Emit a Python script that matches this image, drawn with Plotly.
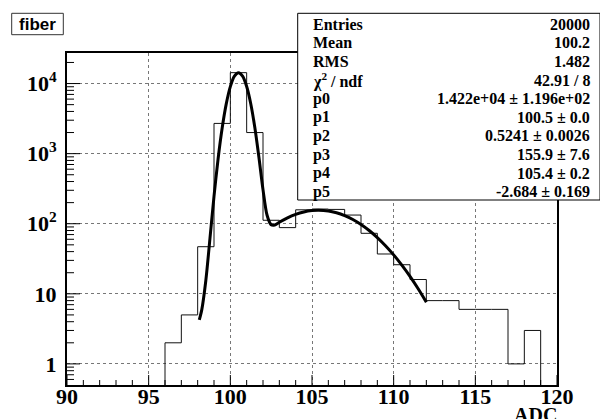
import math
import plotly.graph_objects as go

# ---------------- data ----------------
bin_edges = list(range(90, 121))  # 30 bins of width 1
counts = [0, 0, 0, 0, 0, 0, 2, 5, 47, 2700,
          14300, 2000, 112, 88, 158, 162, 160, 133, 73, 37,
          26, 16, 8, 8, 6, 6, 6, 1, 3, 0]

# fit curve
fit_x = [98.1, 98.25, 98.5, 98.75, 99.0, 99.25, 99.5, 99.75, 100.0, 100.25,
         100.5, 100.75, 101.0, 101.25, 101.5, 101.75, 102.0, 102.25, 102.5, 102.65,
         102.8, 103.0, 103.5, 104.0, 104.5, 105.0, 105.4, 106.0, 106.5, 107.0,
         107.5, 108.0, 108.5, 109.0, 109.5, 110.0, 110.5, 111.0, 111.5, 112.0]
fit_y = [4.25, 5.9, 15.5, 61, 246, 839, 2317, 5125, 9042, 12716,
         14249, 12726, 9062, 5155, 2357, 889, 307, 132, 96.7, 95.2,
         97.6, 104.7, 121.3, 136.1, 147.4, 154.2, 155.9, 152.1, 143.3, 130.5,
         114.8, 97.5, 80.0, 63.4, 48.5, 35.9, 25.6, 17.7, 11.8, 7.6]

y_tickvals = [1, 10, 100, 1000, 10000]
y_ticktext = ["1", "10", "10<sup>2</sup>", "10<sup>3</sup>", "10<sup>4</sup>"]
x_tickvals = [90, 95, 100, 105, 110, 115, 120]
x_ticktext = ["90", "95", "100", "105", "110", "115", "120"]

stat_names = ["Entries", "Mean", "RMS", "χ<sup>2</sup> / ndf",
              "p0", "p1", "p2", "p3", "p4", "p5"]
stat_values = ["20000", "100.2", "1.482", "42.91 / 8",
               "1.422e+04 ± 1.196e+02", "100.5 ± 0.0", "0.5241 ± 0.0026",
               "155.9 ± 7.6", "105.4 ± 0.2", "-2.684 ± 0.169"]

title_text = "fiber"
x_title = "ADC"

# ---------------- layout helpers ----------------
W, H = 600, 419
L, R, T, B = 67, 43, 53, 34
PW, PH = W - L - R, H - T - B


def px(xp):
    return (xp - L) / PW


def py(yp):
    return (H - B - yp) / PH


SERIF = "Liberation Serif"
SANS = "Liberation Sans"
X_RANGE = [90, 120]
Y_RANGE = [-0.301, 4.436]

# histogram as a step line; empty bins dropped below the visible range
floor = 0.1
hist_y = [c if c > 0 else floor for c in counts]
hist_y = hist_y + [hist_y[-1]]

# minor tick positions
y_minor = [m * 10 ** e for e in range(-1, 5) for m in range(2, 10)
           if Y_RANGE[0] < math.log10(m * 10 ** e) < Y_RANGE[1]]
x_minor = [v for v in range(90, 121) if v not in x_tickvals]

fig = go.Figure()
fig.add_trace(go.Scatter(
    x=bin_edges, y=hist_y, mode="lines", line=dict(shape="hv", color="#111", width=1),
    hoverinfo="skip", showlegend=False))
fig.add_trace(go.Scatter(
    x=fit_x, y=fit_y, mode="lines", line=dict(shape="spline", smoothing=0.8, color="black", width=3),
    hoverinfo="skip", showlegend=False))

tickfont = dict(family=SERIF, size=22, color="black", weight="bold")

fig.update_layout(
    xaxis=dict(
        range=X_RANGE, tickmode="array", tickvals=x_tickvals, ticktext=x_ticktext,
        ticks="", showgrid=True, gridcolor="#777", griddash="dot", gridwidth=1,
        showline=True, linecolor="black", linewidth=2, mirror=True, zeroline=False,
        tickfont=tickfont, ticklabelstandoff=-9),
    yaxis=dict(
        type="log", range=Y_RANGE, tickmode="array", tickvals=y_tickvals, ticktext=y_ticktext,
        ticks="", showgrid=True, gridcolor="#777", griddash="dot", gridwidth=1,
        showline=True, linecolor="black", linewidth=2, mirror=True, zeroline=False,
        tickfont=tickfont, ticklabelstandoff=4),
)

shapes = []
annotations = []

# tick marks drawn inside the frame (ROOT style)
tick_line = dict(color="black", width=1)
for v in x_tickvals:
    shapes.append(dict(type="line", xref="x", yref="paper", x0=v, x1=v, y0=0, y1=10 / PH,
                       line=tick_line, layer="above"))
for v in x_minor:
    shapes.append(dict(type="line", xref="x", yref="paper", x0=v, x1=v, y0=0, y1=5 / PH,
                       line=tick_line, layer="above"))
span = Y_RANGE[1] - Y_RANGE[0]
for v in y_tickvals:
    yy = (math.log10(v) - Y_RANGE[0]) / span
    shapes.append(dict(type="line", xref="paper", yref="paper", x0=0, x1=13 / PW, y0=yy, y1=yy,
                       line=tick_line, layer="above"))
for v in y_minor:
    yy = (math.log10(v) - Y_RANGE[0]) / span
    shapes.append(dict(type="line", xref="paper", yref="paper", x0=0, x1=7 / PW, y0=yy, y1=yy,
                       line=tick_line, layer="above"))

# stats box
shapes.append(dict(type="rect", xref="paper", yref="paper", layer="above",
                   x0=px(297.7), x1=px(600), y0=py(200), y1=py(13.3),
                   fillcolor="white", line=dict(color="black", width=1)))
row0, dy = 24.3, 18.6
for i, (n, v) in enumerate(zip(stat_names, stat_values)):
    yc = py(row0 + i * dy)
    annotations.append(dict(xref="paper", yref="paper", x=px(311), y=yc, text=n,
                            xanchor="left", yanchor="middle", showarrow=False,
                            font=dict(family=SERIF, size=16, color="black", weight="bold")))
    annotations.append(dict(xref="paper", yref="paper", x=px(592), y=yc, text=v,
                            xanchor="right", yanchor="middle", showarrow=False,
                            font=dict(family=SERIF, size=16, color="black", weight="bold")))

# title box
shapes.append(dict(type="rect", xref="paper", yref="paper", layer="above",
                   x0=px(11.7), x1=px(63.3), y0=py(34.7), y1=py(13.3),
                   fillcolor="white", line=dict(color="#333", width=1)))
annotations.append(dict(xref="paper", yref="paper", x=px(37.5), y=py(24.3), text=title_text,
                        xanchor="center", yanchor="middle", showarrow=False,
                        font=dict(family=SANS, size=17, color="black", weight="bold")))

# x-axis title
annotations.append(dict(xref="paper", yref="paper", x=px(559), y=py(402), text=x_title,
                        xanchor="right", yanchor="top", showarrow=False,
                        font=dict(family=SERIF, size=20, color="black", weight="bold")))

fig.update_layout(
    width=W, height=H, margin=dict(l=L, r=R, t=T, b=B, autoexpand=False),
    paper_bgcolor="white", plot_bgcolor="white",
    shapes=shapes, annotations=annotations, showlegend=False)

fig.write_html("out.html")
